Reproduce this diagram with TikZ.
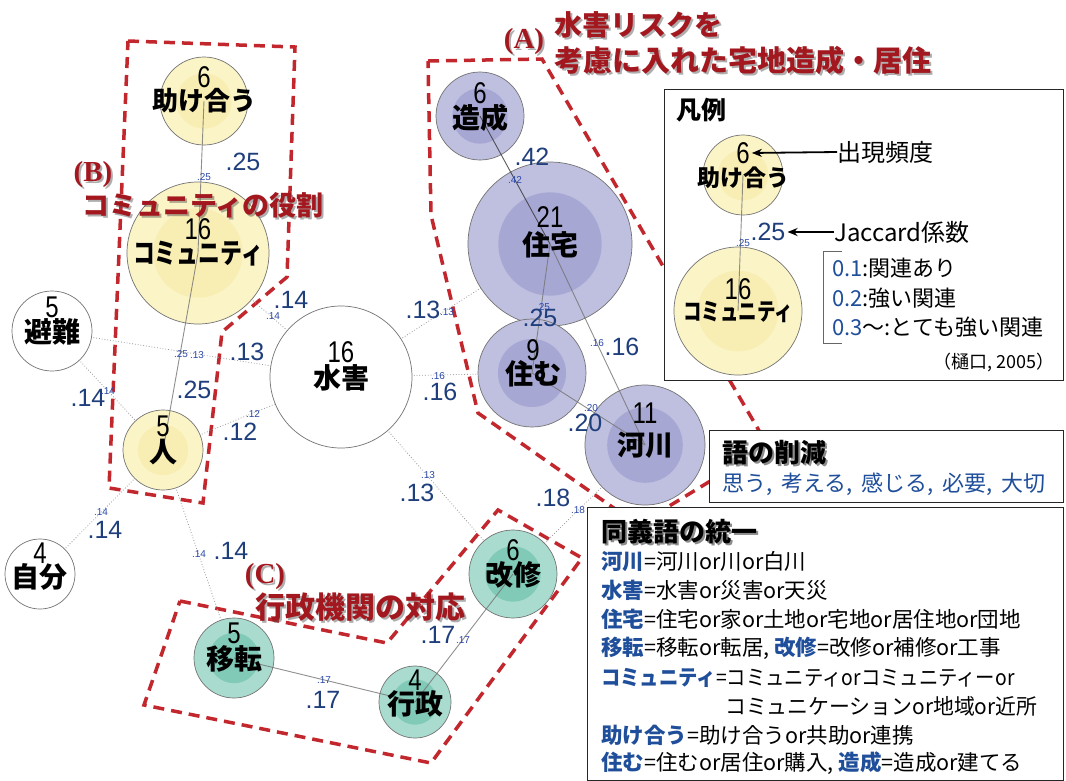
\documentclass[tikz,border=0pt]{standalone}
\usepackage{fontspec}
\setmainfont{Noto Sans CJK JP}
\newfontfamily\ar{Liberation Sans}
\newfontfamily\sr{Liberation Serif}
\usetikzlibrary{arrows.meta}
\definecolor{redd}{HTML}{C1272D}
\definecolor{headred}{HTML}{A3171F}
\definecolor{lblue}{HTML}{1F3E7C}
\definecolor{sblue}{HTML}{2A48A8}
\definecolor{txtblue}{HTML}{1F4E9A}
\definecolor{yo}{HTML}{FBF4C6}
\definecolor{yi}{HTML}{F8EEB4}
\definecolor{po}{HTML}{BFBFE0}
\definecolor{pi}{HTML}{A7A7D4}
\definecolor{to}{HTML}{A9DCCF}
\definecolor{ti}{HTML}{80CAB7}
\newcommand\bubble[6]{%
  \node[bubb, minimum size=#4*2pt, fill=#5] (#1) at (#2,#3) {};
  \fill[#6] (#1.center) circle[radius=#4*0.63];
}
\newcommand\btext[6]{%
  \node[numtxt] (#1-n) at (#2,#3-#4) {\scalebox{0.8}[1]{#5}};
  \node[labtxt] (#1-l) at (#2,#3) {#6};
}
\begin{document}
\begin{tikzpicture}[x=1pt,y=-1pt,
  bubb/.style={circle, draw=black!55, line width=0.7pt, inner sep=0pt},
  solidE/.style={draw=black!55, line width=0.9pt, opacity=0.8},
  dotE/.style={draw=black!40, line width=0.8pt, dotted},
  bigl/.style={text=lblue, font=\ar\fontsize{25}{25}\selectfont, inner sep=0pt},
  smalll/.style={text=sblue, font=\ar\fontsize{10}{10}\selectfont, inner sep=0pt},
  numtxt/.style={font=\ar\fontsize{30}{30}\selectfont, inner sep=0pt},
  labtxt/.style={font=\bfseries\fontsize{28}{28}\selectfont, inner sep=0pt},
  zonebox/.style={draw=redd, line width=3.5pt, dash pattern=on 11pt off 7pt},
  infobox/.style={draw=black!85, line width=1.3pt, fill=white, inner sep=0pt},
  hd/.style={text=headred, inner sep=0pt},
  hdsh/.style={text=black!70, opacity=0.45, inner sep=0pt},
  arrowE/.style={-{Stealth[length=10pt,width=8pt]}, line width=1.8pt, shorten >=2pt},
  syn/.style={anchor=west, inner sep=0pt, font=\fontsize{21.5}{22}\selectfont}]
\fill[white] (0,0) rectangle (1066,780);
\useasboundingbox (0,0) rectangle (1066,780);

% zones
\draw[zonebox] (128,41) -- (295,47) -- (287,277) -- (222,332) -- (203,503) -- (109,488) -- cycle;
\draw[zonebox] (428,61) -- (542,59) -- (768,446) -- (638,525) -- (478,413) -- (431,215) -- cycle;
\draw[zonebox] (180,601) -- (387,643) -- (498,510) -- (582,558) -- (431,763) -- (144,705) -- cycle;

% centres
\coordinate (P-tasuke) at (204,101);
\coordinate (P-comm) at (198,253);
\coordinate (P-hinan) at (52,331);
\coordinate (P-suigai) at (341,377);
\coordinate (P-hito) at (163,450);
\coordinate (P-jibun) at (40,574);
\coordinate (P-iten) at (234,658);
\coordinate (P-gyosei) at (415,702);
\coordinate (P-kaishu) at (513,574);
\coordinate (P-zosei) at (480,116);
\coordinate (P-jutaku) at (550,244);
\coordinate (P-sumu) at (532,373);
\coordinate (P-kasen) at (645,445);

% dotted edges
\draw[dotE] (P-hinan) -- (P-suigai);
\draw[dotE] (P-comm) -- (P-suigai);
\draw[dotE] (P-hito) -- (P-suigai);
\draw[dotE] (P-hinan) -- (P-hito);
\draw[dotE] (P-hito) -- (P-jibun);
\draw[dotE] (P-hito) -- (P-iten);
\draw[dotE] (P-suigai) -- (P-kaishu);
\draw[dotE] (P-suigai) -- (P-sumu);
\draw[dotE] (P-suigai) -- (P-jutaku);
\draw[dotE] (P-kasen) -- (P-kaishu);

% bubbles
\bubble{tasuke}{204}{101}{44}{yo}{yi}
\bubble{comm}{198}{253}{71}{yo}{yi}
\bubble{hinan}{52}{331}{40}{white}{white}
\bubble{suigai}{341}{377}{71}{white}{white}
\bubble{hito}{163}{450}{40}{yo}{yi}
\bubble{jibun}{40}{574}{35}{white}{white}
\bubble{iten}{234}{658}{40}{to}{ti}
\bubble{gyosei}{415}{702}{36}{to}{ti}
\bubble{kaishu}{513}{574}{44}{to}{ti}
\bubble{zosei}{480}{116}{44}{po}{pi}
\bubble{jutaku}{550}{244}{82}{po}{pi}
\bubble{sumu}{532}{373}{54}{po}{pi}
\bubble{kasen}{645}{445}{60}{po}{pi}

% solid edges
\draw[solidE] (tasuke.center) -- (comm.center);
\draw[solidE] (comm.center) -- (hito.center);
\draw[solidE, draw=black!80] (zosei.center) -- (jutaku.center);
\draw[solidE] (jutaku.center) -- (sumu.center);
\draw[solidE] (jutaku.center) -- (kasen.center);
\draw[solidE] (sumu.center) -- (kasen.center);
\draw[solidE] (kaishu.center) -- (gyosei.center);
\draw[solidE] (iten.center) -- (gyosei.center);

% node texts
\btext{tasuke}{204}{101}{24}{6}{\fontsize{26}{26}\selectfont 助け合う}
\btext{comm}{198}{254}{25}{16}{\scalebox{0.78}[1]{コミュニティ}}
\btext{hinan}{52}{332}{25}{5}{避難}
\btext{suigai}{341}{378}{26}{16}{水害}
\btext{hito}{163}{452}{26}{5}{人}
\btext{jibun}{40}{577}{24}{4}{自分}
\btext{iten}{234}{659}{26}{5}{移転}
\btext{gyosei}{415}{704}{24}{4}{行政}
\btext{kaishu}{513}{575}{25}{6}{改修}
\btext{zosei}{480}{118}{25}{6}{造成}
\btext{jutaku}{550}{245}{28}{21}{住宅}
\btext{sumu}{533}{374}{24}{9}{住む}
\btext{kasen}{645}{445}{32}{11}{河川}

% edge labels
\node[smalll] (s1) at (204,177) {.25};
\node[bigl] (b1) at (243,162) {.25};
\node[smalll] (s2) at (181,354) {.25};
\node[bigl] (b2) at (194,390) {.25};
\node[smalll] (s3) at (197,355) {.13};
\node[bigl] (b3) at (247,352) {.13};
\node[smalll] (s4) at (273,316) {.14};
\node[bigl] (b4) at (291,300) {.14};
\node[smalll] (s5) at (253,414) {.12};
\node[bigl] (b5) at (240,432) {.12};
\node[smalll] (s6) at (108,391) {.14};
\node[bigl] (b6) at (88,398) {.14};
\node[smalll] (s7) at (101,512) {.14};
\node[bigl] (b7) at (105,530) {.14};
\node[smalll] (s8) at (199,554) {.14};
\node[bigl] (b8) at (231,551) {.14};
\node[smalll] (s9) at (428,475) {.13};
\node[bigl] (b9) at (417,493) {.13};
\node[smalll] (s10) at (438,376) {.16};
\node[bigl] (b10) at (440,392) {.16};
\node[bigl] (b11) at (423,310) {.13};
\node[smalll] (s11) at (447,312) {.13};
\node[smalll] (s12) at (515,180) {.42};
\node[bigl] (b12) at (532,157) {.42};
\node[smalll] (s13) at (543,307) {.25};
\node[bigl] (b13) at (540,318) {.25};
\node[smalll] (s14) at (597,343) {.16};
\node[bigl] (b14) at (622,347) {.16};
\node[smalll] (s15) at (591,408) {.20};
\node[bigl] (b15) at (585,423) {.20};
\node[smalll] (s16) at (578,510) {.18};
\node[bigl] (b16) at (553,498) {.18};
\node[smalll] (s17) at (463,640) {.17};
\node[bigl] (b17) at (438,635) {.17};
\node[smalll] (s18) at (324,680) {.17};
\node[bigl] (b18) at (323,700) {.17};

% headings
\node[hdsh, font=\sr\bfseries\fontsize{29}{29}\selectfont] (hAs) at (526,44) {(A)};
\node[hd, font=\sr\bfseries\fontsize{29}{29}\selectfont] (hA) at (524,42) {(A)};
\node[hdsh, anchor=west, font=\bfseries\fontsize{28}{28}\selectfont] (hA1s) at (556,27) {水害リスクを};
\node[hd, anchor=west, font=\bfseries\fontsize{28}{28}\selectfont] (hA1) at (554,25) {水害リスクを};
\node[hdsh, anchor=west, font=\bfseries\fontsize{29}{29}\selectfont] (hA2s) at (556,62) {考慮に入れた宅地造成・居住};
\node[hd, anchor=west, font=\bfseries\fontsize{29}{29}\selectfont] (hA2) at (554,60) {考慮に入れた宅地造成・居住};
\node[hdsh, font=\sr\bfseries\fontsize{29}{29}\selectfont] (hBs) at (95,177) {(B)};
\node[hd, font=\sr\bfseries\fontsize{29}{29}\selectfont] (hB) at (93,175) {(B)};
\node[hdsh, anchor=west, font=\bfseries\fontsize{27}{27}\selectfont] (hB1s) at (84,207) {コミュニティの役割};
\node[hd, anchor=west, font=\bfseries\fontsize{27}{27}\selectfont] (hB1) at (82,205) {コミュニティの役割};
\node[hdsh, font=\sr\bfseries\fontsize{29}{29}\selectfont] (hCs) at (267,579) {(C)};
\node[hd, font=\sr\bfseries\fontsize{29}{29}\selectfont] (hC) at (265,577) {(C)};
\node[hdsh, anchor=west, font=\bfseries\fontsize{30}{30}\selectfont] (hC1s) at (257,609) {行政機関の対応};
\node[hd, anchor=west, font=\bfseries\fontsize{30}{30}\selectfont] (hC1) at (255,607) {行政機関の対応};

% legend
\node[infobox, anchor=north west, minimum width=399pt, minimum height=291pt] (legbox) at (664,89) {};
\node[anchor=west, inner sep=0pt, font=\bfseries\fontsize{25}{25}\selectfont] (legtitle) at (676,110) {凡例};
\bubble{lgA}{743}{175}{40}{yo}{yi}
\bubble{lgB}{738}{311}{64}{yo}{yi}
\draw[solidE] (lgA.center) -- (lgB.center);
\btext{lgA}{743}{178}{25}{6}{\fontsize{23}{23}\selectfont 助け合う}
\btext{lgB}{738}{312}{23}{16}{\fontsize{24}{24}\selectfont\scalebox{0.77}[1]{コミュニティ}}
\node[smalll] (lgs) at (743,243) {.25};
\node[bigl] (lgb) at (768,232) {.25};
\node[anchor=west, inner sep=0pt, font=\fontsize{24}{24}\selectfont] (lgT1) at (837,152) {出現頻度};
\node[anchor=west, inner sep=0pt, font=\fontsize{24}{24}\selectfont] (lgT2) at (834,232) {Jaccard係数};
\draw[arrowE] (lgT1.west) -- (lgA-n.east);
\draw[arrowE] (lgT2.west) -- (lgb.east);
\draw[black!60, line width=0.8pt] (842,251) -- (823,251) -- (823,343) -- (842,343);
\node[anchor=west, inner sep=0pt, font=\fontsize{22}{22}\selectfont] (lg1) at (832,268) {\textcolor{txtblue}{0.1}:関連あり};
\node[anchor=west, inner sep=0pt, font=\fontsize{22}{22}\selectfont] (lg2) at (832,298) {\textcolor{txtblue}{0.2}:強い関連};
\node[anchor=west, inner sep=0pt, font=\fontsize{22}{22}\selectfont] (lg3) at (832,327) {\textcolor{txtblue}{0.3}〜:とても強い関連};
\node[anchor=east, inner sep=0pt, font=\fontsize{18}{18}\selectfont] (lg4) at (1055,362) {（樋口, 2005）};

% reduction box
\node[infobox, anchor=north west, minimum width=354pt, minimum height=72pt] (redbox) at (709,430) {};
\node[hdsh, anchor=west, text=black, font=\bfseries\fontsize{26}{26}\selectfont] (redts) at (724,455) {語の削減};
\node[anchor=west, inner sep=0pt, font=\bfseries\fontsize{26}{26}\selectfont] (redt) at (722,453) {語の削減};
\node[anchor=west, inner sep=0pt, text=txtblue, font=\fontsize{22}{22}\selectfont] (redl) at (722,484) {思う,\hspace{4pt} 考える,\hspace{4pt} 感じる,\hspace{4pt} 必要,\hspace{4pt} 大切};

% synonym box
\node[infobox, anchor=north west, minimum width=476pt, minimum height=273pt] (synbox) at (587,507) {};
\node[hdsh, anchor=west, text=black, font=\bfseries\fontsize{26}{26}\selectfont] (synts) at (603,534) {同義語の統一};
\node[anchor=west, inner sep=0pt, font=\bfseries\fontsize{26}{26}\selectfont] (synt) at (601,532) {同義語の統一};
\newcommand\kwd[1]{\textcolor{txtblue}{\bfseries #1}}
\node[syn] (sy1) at (601,562) {\kwd{河川}=河川or川or白川};
\node[syn] (sy2) at (601,590) {\kwd{水害}=水害or災害or天災};
\node[syn] (sy3) at (601,619) {\kwd{住宅}=住宅or家or土地or宅地or居住地or団地};
\node[syn] (sy4) at (601,648) {\kwd{移転}=移転or転居, \kwd{改修}=改修or補修or工事};
\node[syn] (sy5) at (601,678) {\scalebox{0.9}[1]{\kwd{コミュニティ}=コミュニティorコミュニティーor}};
\node[syn] (sy6) at (725,706) {\scalebox{0.97}[1]{コミュニケーションor地域or近所}};
\node[syn] (sy7) at (601,735) {\kwd{助け合う}=助け合うor共助or連携};
\node[syn] (sy8) at (601,763) {\kwd{住む}=住むor居住or購入, \kwd{造成}=造成or建てる};
\end{tikzpicture}
\end{document}
